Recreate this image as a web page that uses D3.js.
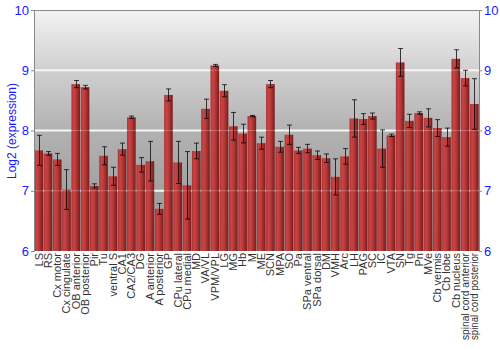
<!DOCTYPE html>
<html><head><meta charset="utf-8">
<script src="https://cdn.jsdelivr.net/npm/d3@7"></script>
<style>body{margin:0;background:#fff}svg{display:block}</style>
</head><body>
<svg id="chart" width="500" height="350"></svg>
<script>
const categories = ["LS","RS","Cx motor","Cx cingulate","OB anterior","OB posterior","Pir","Tu","ventral S","CA1","CA2/CA3","DG","A anterior","A posterior","GP","CPu lateral","CPu medial","MD","VA/VL","VPM/VPL","LG","MG","Hb","M","ME","SCN","MPA","SO","Pa","SPa ventral","SPa dorsal","DM","VMH","Arc","LH","PAG","SC","IC","VTA","SN","Tg","Pn","MVe","Cb vermis","Cb lobe","Cb nucleus","spinal cord anterior","spinal cord posterior"];
const values = [7.67,7.62,7.52,7.02,8.77,8.72,7.08,7.58,7.24,7.69,8.22,7.43,7.49,6.70,8.59,7.47,7.09,7.66,8.36,9.08,8.66,8.07,7.95,8.24,7.79,8.77,7.73,7.93,7.67,7.70,7.59,7.54,7.23,7.57,8.20,8.19,8.24,7.70,7.92,9.13,8.16,8.29,8.21,8.04,7.89,9.19,8.87,8.44];
const errors = [0.25,0.03,0.10,0.33,0.06,0.03,0.035,0.15,0.15,0.10,0.02,0.12,0.33,0.09,0.10,0.35,0.56,0.13,0.16,0.017,0.10,0.23,0.155,0.01,0.10,0.06,0.09,0.16,0.05,0.07,0.07,0.07,0.30,0.13,0.31,0.09,0.05,0.31,0.02,0.23,0.11,0.02,0.15,0.14,0.15,0.15,0.13,0.42];
const yTicks = [6,7,8,9,10];
const gridValues = [7,8,9];
const yTitle = "Log2 (expression)";

const svg = d3.select("#chart");
const L = 34, R = 479, T = 10, B = 251;
const x = d3.scaleBand().domain(categories).range([L, R]).paddingInner(0.07).paddingOuter(0.04);
const y = d3.scaleLinear().domain([6, 10]).range([B, T]);

const defs = svg.append("defs");
const bg = defs.append("linearGradient").attr("id","bg").attr("x1",0).attr("y1",0).attr("x2",0).attr("y2",1);
[["0%","#f3f3f3"],["25%","#d0d0d0"],["50%","#b2b2b2"],["75%","#a2a2a2"],["100%","#9a9a9a"]].forEach(s=>bg.append("stop").attr("offset",s[0]).attr("stop-color",s[1]));
const bar = defs.append("linearGradient").attr("id","bar").attr("x1",0).attr("y1",0).attr("x2",1).attr("y2",0);
[["0%","#a83030"],["25%","#c94545"],["55%","#b53838"],["100%","#7a1a1a"]].forEach(s=>bar.append("stop").attr("offset",s[0]).attr("stop-color",s[1]));

svg.append("rect").attr("x",L).attr("y",T).attr("width",R-L).attr("height",B-T).attr("fill","url(#bg)");

svg.append("g").selectAll("line").data(gridValues).join("line")
  .attr("x1",L).attr("x2",R).attr("y1",d=>y(d)).attr("y2",d=>y(d))
  .attr("stroke","#f4f4f4").attr("stroke-width",2);

svg.append("g").selectAll("rect").data(categories).join("rect")
  .attr("x",d=>x(d)).attr("width",x.bandwidth())
  .attr("y",(d,i)=>y(values[i])).attr("height",(d,i)=>B-y(values[i]))
  .attr("fill","url(#bar)");

svg.append("g").selectAll("line").data(gridValues).join("line")
  .attr("x1",L).attr("x2",R).attr("y1",d=>y(d)).attr("y2",d=>y(d))
  .attr("stroke","#ffffff").attr("stroke-opacity",0.25).attr("stroke-width",1);

const eb = svg.append("g").attr("stroke","#000").attr("stroke-opacity",0.75).attr("stroke-width",1);
categories.forEach((c,i)=>{
  const cx = Math.round(x(c)+x.bandwidth()/2)+0.5;
  const y1 = y(values[i]+errors[i]), y2 = y(values[i]-errors[i]);
  eb.append("line").attr("x1",cx).attr("x2",cx).attr("y1",y1).attr("y2",y2);
  eb.append("line").attr("x1",cx-2.5).attr("x2",cx+2.5).attr("y1",y1).attr("y2",y1);
  eb.append("line").attr("x1",cx-2.5).attr("x2",cx+2.5).attr("y1",y2).attr("y2",y2);
});

svg.append("line").attr("x1",L).attr("x2",R).attr("y1",T+0.5).attr("y2",T+0.5).attr("stroke","#888");

const la = svg.append("g").attr("transform",`translate(${L},0)`)
  .call(d3.axisLeft(y).tickValues(yTicks).tickFormat(d3.format("d")).tickSizeOuter(0).tickSize(3).tickPadding(2));
const ra = svg.append("g").attr("transform",`translate(${R},0)`)
  .call(d3.axisRight(y).tickValues(yTicks).tickFormat(d3.format("d")).tickSizeOuter(0).tickSize(3).tickPadding(2));
[la,ra].forEach(a=>{
  a.select(".domain").attr("stroke","#888");
  a.selectAll(".tick line").attr("stroke","#888");
  a.selectAll(".tick text").attr("fill","#1a1aff").attr("font-family","Arial, 'Liberation Sans', sans-serif").attr("font-size",13);
});

const xa = svg.append("g").attr("transform",`translate(0,${B})`)
  .call(d3.axisBottom(x).tickSize(0).tickPadding(0));
xa.select(".domain").remove();
const maxLen = 87;
xa.selectAll(".tick text")
  .attr("transform","rotate(-90)").attr("text-anchor","end")
  .attr("x",-2).attr("y",0).attr("dy","0.35em")
  .attr("fill","#333").attr("font-family","Arial, 'Liberation Sans', sans-serif").attr("font-size",11)
  .each(function(){
    const len = this.getComputedTextLength();
    if (len > maxLen) d3.select(this).attr("textLength",maxLen).attr("lengthAdjust","spacingAndGlyphs");
  });

svg.append("text").attr("transform","translate(12,131) rotate(-90)")
  .attr("text-anchor","middle").attr("dy","0.35em")
  .attr("fill","#1a1aff").attr("font-family","Arial, 'Liberation Sans', sans-serif").attr("font-size",12)
  .text(yTitle);
</script>
</body></html>
